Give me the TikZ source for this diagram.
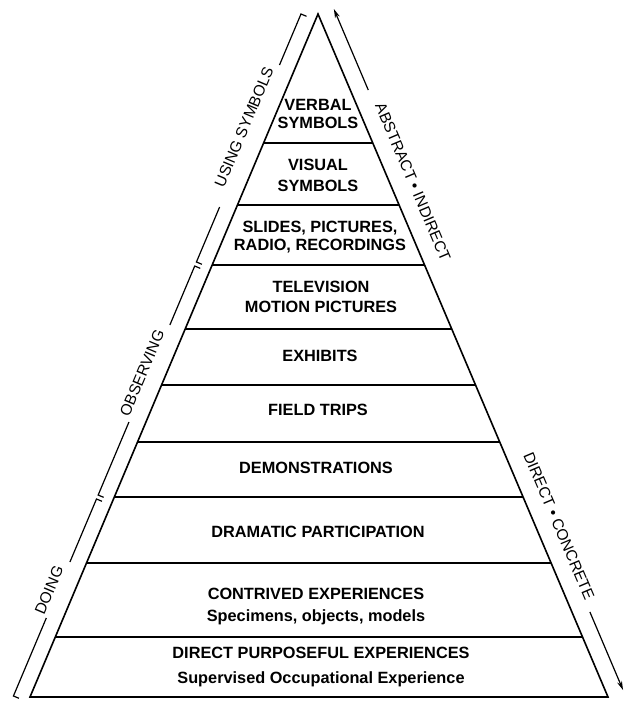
\documentclass[tikz,border=0pt]{standalone}
\usepackage{fontspec}
\setmainfont{Liberation Sans}
\usetikzlibrary{calc,arrows.meta}
\begin{document}
\begin{tikzpicture}[x=1pt,y=1pt,
  layer/.style={font=\fontsize{16.3}{18}\selectfont\bfseries, align=center, inner sep=0pt},
  side/.style={font=\fontsize{15.5}{18}\selectfont, inner sep=0pt},
  edge/.style={line width=1.6pt, line join=miter},
  divider/.style={line width=1.3pt},
  bracket/.style={line width=1.2pt},
  arr/.style={line width=1.2pt, -{Stealth[length=9pt,width=5pt]}}
]
\fill[white] (0,0) rectangle (624,-702);
\useasboundingbox (0,0) rectangle (624,-702);

% pyramid
\coordinate (apex) at (318,-14);
\coordinate (bl) at (30,-697);
\coordinate (br) at (608,-697);
\foreach \t [count=\i] in {0.1889,0.2797,0.3675,0.4612,0.5432,0.6266,0.7072,0.8038,0.9122} {
  \coordinate (dl\i) at ($(apex)!\t!(bl)$);
  \coordinate (dr\i) at ($(apex)!\t!(br)$);
  \draw[divider] (dl\i) -- (dr\i);
}
\draw[edge] (bl) -- (apex) -- (br) -- cycle;

% layer texts
\node[layer] (verbal) at (318,-114) {VERBAL\\SYMBOLS};
\node[layer] (visual) at (318,-175) {VISUAL\\[3pt]SYMBOLS};
\node[layer] (slides) at (320,-237) {SLIDES, PICTURES,\\RADIO, RECORDINGS};
\node[layer] (tv) at (321,-297) {TELEVISION\\[2pt]MOTION PICTURES};
\node[layer] (exhibits) at (320,-356) {EXHIBITS};
\node[layer] (field) at (318,-410) {FIELD TRIPS};
\node[layer] (demo) at (316,-468) {DEMONSTRATIONS};
\node[layer] (drama) at (318,-532) {DRAMATIC PARTICIPATION};
\node[layer] (contrived) at (316,-606) {CONTRIVED EXPERIENCES\\[4pt]Specimens, objects, models};
\node[layer] (direct) at (321,-667) {DIRECT PURPOSEFUL EXPERIENCES\\[7pt]Supervised Occupational Experience};

% left bracket
\coordinate (lt) at (301,-14);
\coordinate (lb) at (13,-697);
\foreach \a/\b/\c/\d [count=\i] in {0/0.0747/0.2826/0.3631, 0.3690/0.4553/0.5974/0.7043, 0.7101/0.8023/0.8843/0.9985} {
  \coordinate (ga\i) at ($(lt)!\a!(lb)$);
  \coordinate (gb\i) at ($(lt)!\b!(lb)$);
  \coordinate (gc\i) at ($(lt)!\c!(lb)$);
  \coordinate (gd\i) at ($(lt)!\d!(lb)$);
  \draw[bracket] ($(ga\i)+(5.5,-2.3)$) -- (ga\i) -- (gb\i);
  \draw[bracket] (gc\i) -- (gd\i) -- ($(gd\i)+(5.5,-2.3)$);
}
\node[side, rotate=67.1] (using) at (244,-127) {USING SYMBOLS};
\node[side, rotate=67.1] (observing) at (142,-373) {OBSERVING};
\node[side, rotate=67.1] (doing) at (49,-590) {DOING};

% right arrows
\coordinate (rt) at (336,-14);
\coordinate (rb) at (626,-697);
\coordinate (ra1) at ($(rt)!0.1113!(rb)$);
\coordinate (ra2) at ($(rt)!-0.0073!(rb)$);
\coordinate (rb1) at ($(rt)!0.8755!(rb)$);
\coordinate (rb2) at ($(rt)!0.9898!(rb)$);
\draw[arr] (ra1) -- (ra2);
\draw[arr] (rb1) -- (rb2);
\node[side, rotate=-67] (abstract) at (413,-182) {ABSTRACT • INDIRECT};
\node[side, rotate=-67] (concrete) at (559,-526) {DIRECT • CONCRETE};
\end{tikzpicture}
\end{document}
